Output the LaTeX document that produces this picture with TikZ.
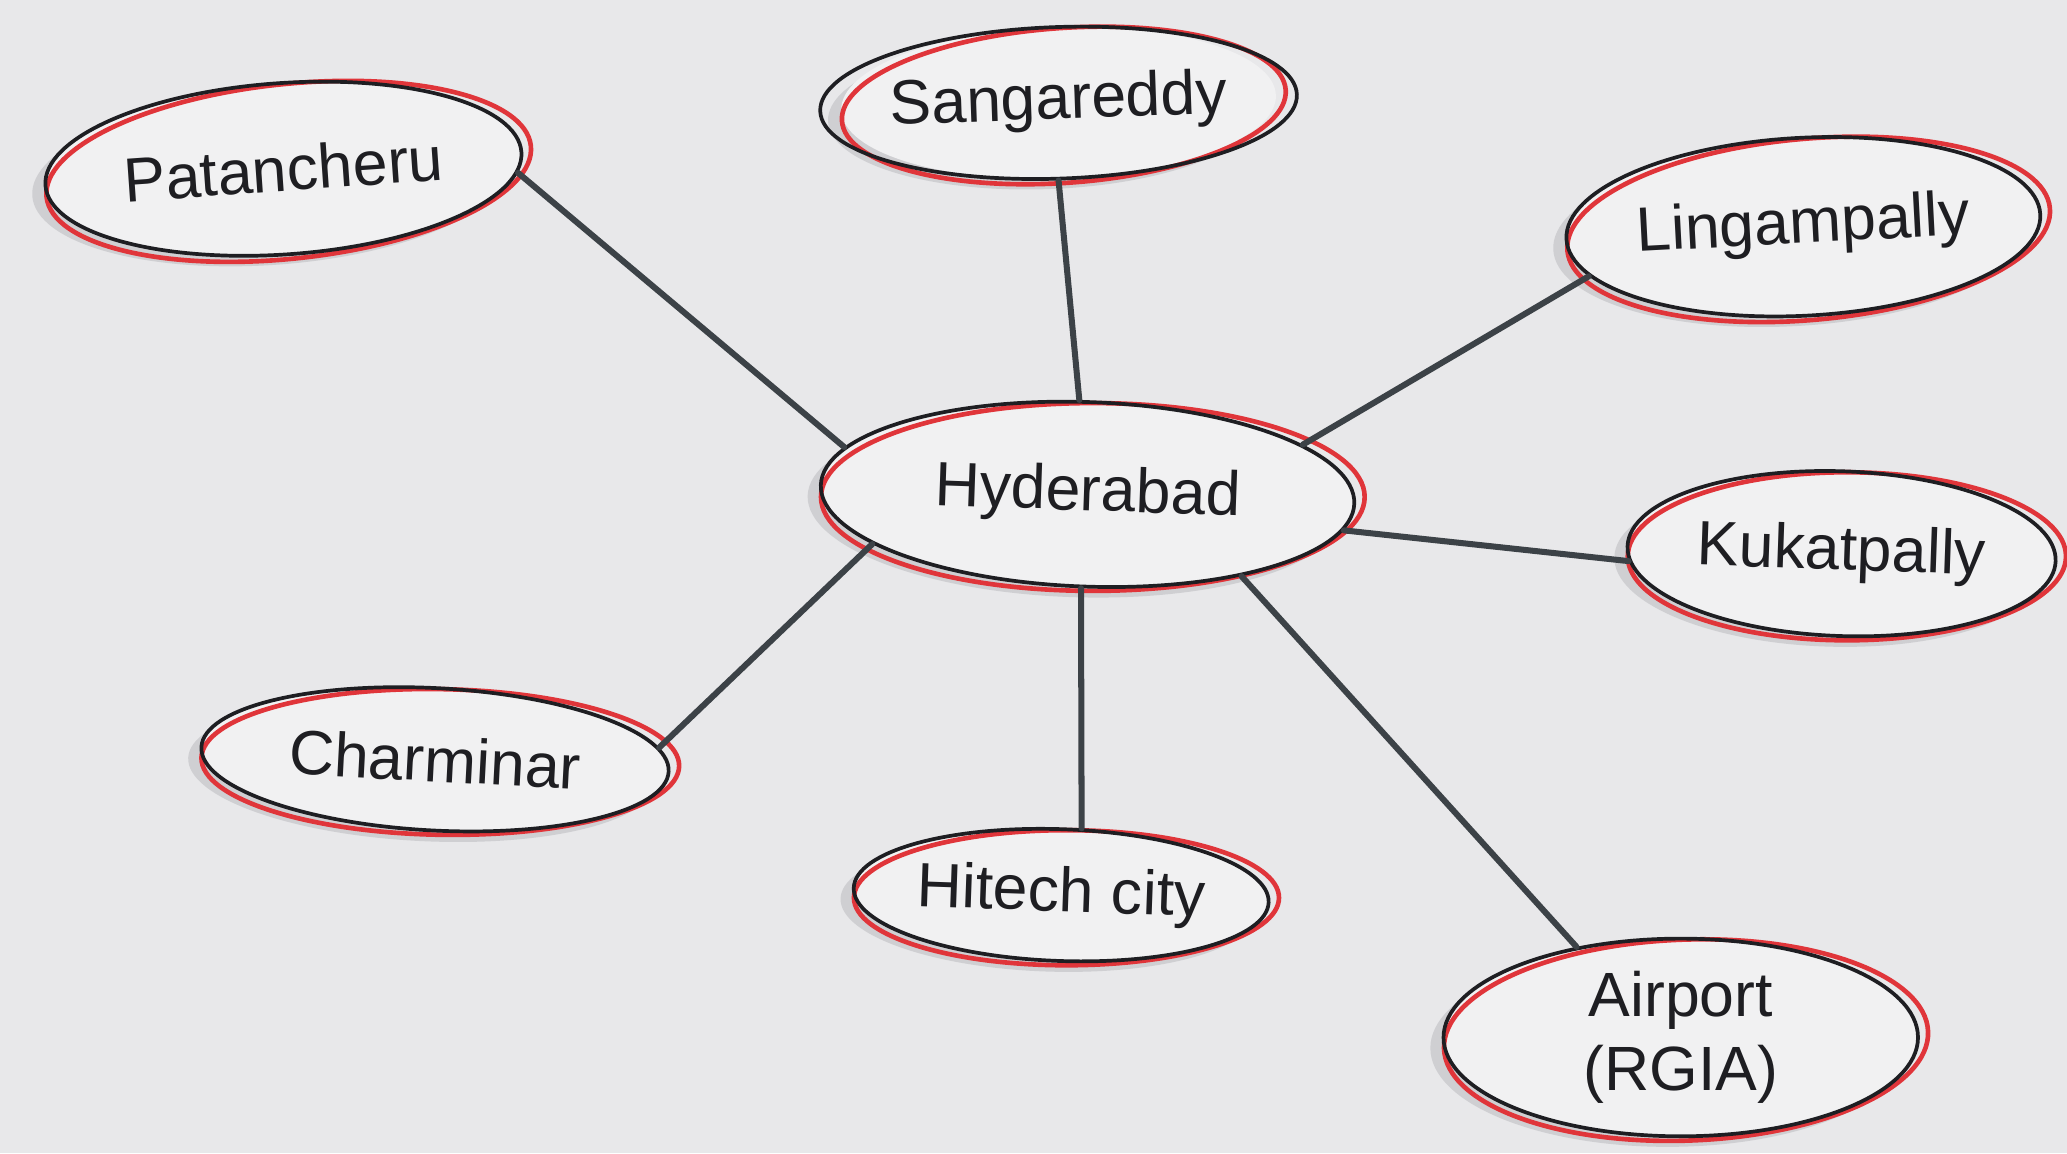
\documentclass[tikz,border=0pt]{standalone}
\usepackage{fontspec}
\setmainfont{Liberation Sans}
\usetikzlibrary{shapes.geometric}
\definecolor{paper}{HTML}{E8E8EA}
\definecolor{inner}{HTML}{F1F1F2}
\definecolor{pen}{HTML}{1E1E22}
\definecolor{redpen}{HTML}{E0353A}
\definecolor{rope}{HTML}{3C4247}
\definecolor{shade}{HTML}{C9C9CC}
\tikzset{
  x=0.02cm, y=-0.02cm,
  place/.style={ellipse, draw=pen, line width=1.6pt, inner sep=0pt,
    text=pen, font=\fontsize{27}{32}\selectfont, align=center},
  redring/.style={ellipse, draw=redpen, line width=2pt, inner sep=0pt},
  shadowring/.style={ellipse, fill=shade, draw=none, inner sep=0pt, opacity=0.8},
  fillring/.style={ellipse, fill=inner, draw=none, inner sep=0pt},
  link/.style={draw=rope, line width=2.6pt, line cap=round},
}
\newcommand{\mapnode}[6]{%
  % #1 name, #2 center, #3 width(cm), #4 height(cm), #5 rotate, #6 text
  \node[shadowring, minimum width=#3cm, minimum height=#4cm, rotate=#5] (#1S) at ($#2+(-10,8)$) {};
  \node[fillring, minimum width=#3cm, minimum height=#4cm, rotate=#5] (#1F) at #2 {};
  \node[redring, minimum width=#3cm+0.15cm, minimum height=#4cm+0.05cm, rotate=#5+2] (#1R) at ($#2+(4,2)$) {};
  \node[place, minimum width=#3cm, minimum height=#4cm, rotate=#5] (#1) at #2 {#6};
}
\usetikzlibrary{calc}
\begin{document}
\begin{tikzpicture}
\fill[paper] (0,0) rectangle (1568,875);
\useasboundingbox (0,0) rectangle (1568,875);

\mapnode{pat}{(215,128)}{7.24}{2.6}{4}{Patancheru}
\mapnode{san}{(803,78)}{6.6}{2.3}{2}{Sangareddy}
\mapnode{lin}{(1368,172)}{7.2}{2.7}{3}{Lingampally}
\mapnode{kuk}{(1397,420)}{6.5}{2.5}{-2}{Kukatpally}
\mapnode{cha}{(330,576)}{7.1}{2.16}{-3}{Charminar}
\mapnode{hit}{(805,679)}{6.3}{2.0}{-2}{Hitech city}
\mapnode{air}{(1275,787)}{7.2}{3.0}{0}{Airport\\(RGIA)}
\mapnode{hyd}{(825,375)}{8.1}{2.8}{-2}{Hyderabad}

\draw[link] (pat.-5) -- (hyd.171);
\draw[link] (san.-92) -- (hyd.97);
\draw[link] (lin.190) -- (hyd.15);
\draw[link] (kuk.184) -- (hyd.-6);
\draw[link] (cha.6) -- (hyd.195);
\draw[link] (hit.75) -- (hyd.-92);
\draw[link] (air.139) -- (hyd.-26);
\end{tikzpicture}
\end{document}
